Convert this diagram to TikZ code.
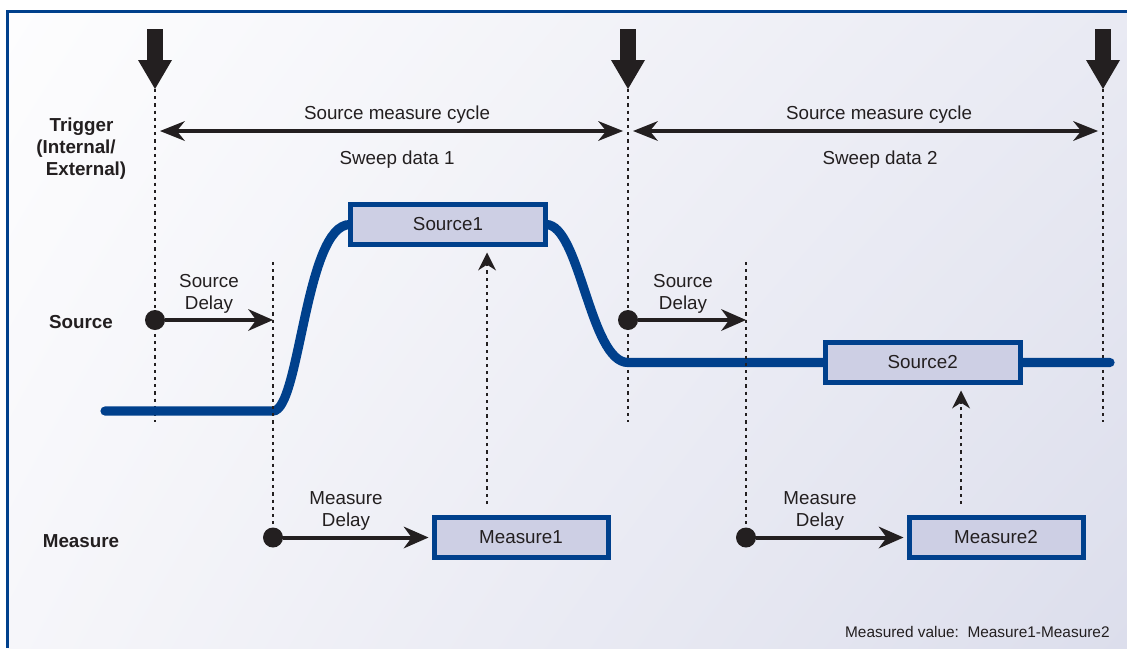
\documentclass[tikz,border=0pt]{standalone}
\usepackage{fontspec}
\setmainfont{Liberation Sans}
\usetikzlibrary{arrows.meta,shadings}
\definecolor{kblue}{HTML}{00408C}
\definecolor{kbox}{HTML}{CDCFE4}
\definecolor{kink}{HTML}{231F20}
\definecolor{bgA}{HTML}{FDFDFE}
\definecolor{bgB}{HTML}{E9EAF3}
\definecolor{bgC}{HTML}{F6F6FA}
\definecolor{bgD}{HTML}{DCDEEC}
\tikzset{bx/.append style={draw=kblue, fill=kbox, line width=2.5pt, minimum height=20pt, inner sep=0pt, text=kink, font=\fontsize{9.4}{11}\selectfont}}
\tikzset{lb/.append style={text=kink, align=center, inner sep=0pt, font=\fontsize{9.4}{11}\selectfont}}
\tikzset{hd/.append style={text=kink, align=center, inner sep=0pt, font=\fontsize{9.4}{11}\selectfont\bfseries}}
\tikzset{dl/.append style={draw=kink, line width=1.4pt, dash pattern=on 1.6pt off 2pt}}
\tikzset{dt/.append style={circle, fill=kink, minimum size=10pt, inner sep=0pt}}
\tikzset{dly/.append style={draw=kink, line width=2pt, -{Stealth[length=12.5pt,width=11pt,line width=0pt]}}}
\tikzset{cyc/.append style={draw=kink, line width=2pt, {Stealth[length=12.5pt,width=10pt,line width=0pt]}-{Stealth[length=12.5pt,width=10pt,line width=0pt]}, shorten <=2.5pt, shorten >=2.5pt}}
\tikzset{upa/.append style={dl, -{Stealth[length=9pt,width=9pt,line width=0pt]}, shorten >=2.75pt}}
\tikzset{trg/.append style={draw=kink, line width=8.25pt, -{Triangle[length=14.5pt,width=17pt,line width=0pt]}}}
\tikzset{wv/.append style={draw=kblue, line width=4.6pt, line cap=round}}

\begin{document}
\begin{tikzpicture}[x=0.5pt,y=-0.5pt]
                \useasboundingbox (0,0) rectangle (1127,648);
                % background and frame
                \shade[upper left=bgA, upper right=bgB, lower left=bgC, lower right=bgD] (7.5,11.3) rectangle (1127,648);
                \draw[kblue, line width=1.5pt] (7.5,648) -- (7.5,11.3) -- (1127,11.3);
                % triggers
                \foreach \n/\x in {1/155,2/628,3/1103}{
                    \coordinate (ta\n) at (\x,29);
                    \coordinate (t\n) at (\x,89);
                    \coordinate (tb\n) at (\x,422);
                    \coordinate (c\n) at (\x,131);
                    \draw[trg] (ta\n) -- (t\n);
                    \draw[dl] (t\n) -- (tb\n);
                }
                \path (c1) edge[cyc] (c2);
                \path (c2) edge[cyc] (c3);
                \node[lb] (smc1) at (397,115) {Source measure cycle};
                \node[lb] (smc2) at (879,115) {Source measure cycle};
                \node[lb] (swd1) at (397,160) {Sweep data 1};
                \node[lb] (swd2) at (880,160) {Sweep data 2};
                % row labels
                \node[hd] (trig) at (81.5,149) {Trigger\\\mbox{(Internal/\kern5.5pt}\\\hspace*{4.5pt}External)};
                \node[hd] (src) at (81,322) {Source};
                \node[hd] (meas) at (81,541) {Measure};
                % source waveform
                \coordinate (w0) at (105,411);
                \coordinate (w1) at (273,411);
                \coordinate (w2) at (350,224.5);
                \coordinate (w3) at (546,224.5);
                \coordinate (w4) at (628,362.5);
                \coordinate (w5) at (1110,362.5);
                \draw[wv] (w0) -- (w1) .. controls (300,411) and (305,224.5) .. (w2) -- (w3)
                    .. controls (580,224.5) and (590,362.5) .. (w4) -- (w5);
                \node[bx, minimum width=97.5pt] (s1) at (448,224.5) {Source1};
                \node[bx, minimum width=97.5pt] (s2) at (922.7,362.5) {Source2};
                \node[bx, minimum width=87pt] (m1) at (521,537.5) {Measure1};
                \node[bx, minimum width=87pt] (m2) at (996,537.5) {Measure2};
                % delays
                \coordinate (v1) at (273,262);
                \coordinate (v2) at (746,262);
                \node[dt] (sd1) at (155,320) {};
                \node[dt] (sd2) at (628,320) {};
                \node[dt] (md1) at (273,537.5) {};
                \node[dt] (md2) at (746,537.5) {};
                \draw[dl] (v1) -- (md1);
                \draw[dl] (v2) -- (md2);
                \path (sd1) edge[dly] (sd1 -| v1);
                \path (sd2) edge[dly] (sd2 -| v2);
                \path (md1) edge[dly, shorten >=1.5pt] (m1.west);
                \path (md2) edge[dly, shorten >=1.5pt] (m2.west);
                \node[lb] (sdl1) at (209,294) {Source\\Delay};
                \node[lb] (sdl2) at (683,294) {Source\\Delay};
                \node[lb] (mdl1) at (346,511) {Measure\\Delay};
                \node[lb] (mdl2) at (820,511) {Measure\\Delay};
                % measured value goes back up
                \coordinate (u1) at (487,504);
                \coordinate (u2) at (961,504);
                \draw[upa] (u1) -- (u1 |- s1.south);
                \draw[upa] (u2) -- (u2 |- s2.south);
                \node[lb, anchor=east, font=\fontsize{7.7}{9}\selectfont] (mv) at (1110,632) {Measured value:\ \ Measure1-Measure2};
            \end{tikzpicture}
\end{document}
